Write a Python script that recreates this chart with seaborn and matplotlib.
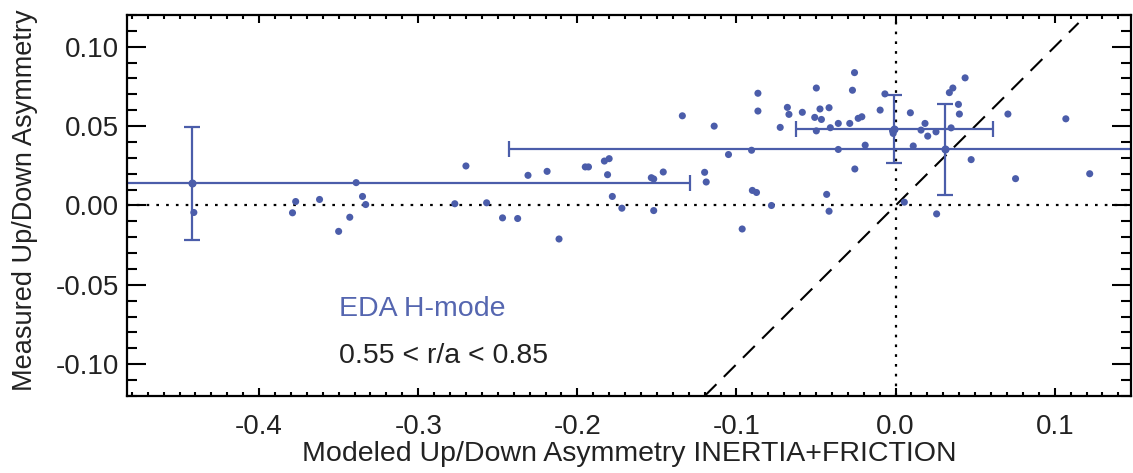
import numpy as np
import pandas as pd
import matplotlib
matplotlib.use('Agg')
import matplotlib.pyplot as plt
import seaborn as sns
from matplotlib.ticker import MultipleLocator

# modelled (x) vs measured (y) up/down asymmetry
model_asym = [-0.441, -0.379, -0.377, -0.362, -0.350, -0.343, -0.339, -0.335, -0.333,
              -0.277, -0.270, -0.257, -0.247, -0.2375, -0.231, -0.219, -0.2115, -0.195,
              -0.193, -0.183, -0.180, -0.181, -0.178, -0.172, -0.1535, -0.152, -0.152,
              -0.146, -0.134, -0.120, -0.119, -0.114, -0.105, -0.0964, -0.0905, -0.090,
              -0.0874, -0.0865, -0.0865, -0.078, -0.0725, -0.068, -0.067, -0.0586, -0.0498,
              -0.0508, -0.0475, -0.0466, -0.0418, -0.0498, -0.041, -0.0433, -0.0418, -0.036,
              -0.036, -0.0288, -0.0258, -0.0271, -0.0256, -0.0235, -0.0212, -0.0191, -0.0097,
              -0.0067, -0.0019, -0.0015, 0.0055, 0.0093, 0.0111, 0.016, 0.0185, 0.0202,
              0.0254, 0.0258, 0.0338, 0.036, 0.0349, 0.0395, 0.0401, 0.0437, 0.0475,
              0.0706, 0.0754, 0.107, 0.122]
meas_asym = [-0.0044, -0.0046, 0.0025, 0.0038, -0.0163, -0.0074, 0.0144, 0.0057, 0.0006,
             0.0011, 0.0249, 0.0017, -0.0078, -0.0082, 0.019, 0.0215, -0.0211, 0.0243,
             0.0243, 0.028, 0.0295, 0.0194, 0.0057, -0.0017, 0.0175, 0.0167, -0.0032,
             0.0211, 0.0565, 0.0209, 0.0148, 0.050, 0.0321, -0.0148, 0.0348, 0.0095,
             0.0082, 0.0707, 0.0595, 0.0, 0.0492, 0.0618, 0.0574, 0.0587, 0.074,
             0.0555, 0.0608, 0.0542, 0.0616, 0.047, 0.049, 0.007, -0.0036, 0.0517,
             0.0353, 0.0517, 0.0837, 0.0726, 0.023, 0.0549, 0.0559, 0.038, 0.0601,
             0.0703, 0.047, 0.0454, 0.0021, 0.0584, 0.0375, 0.0475, 0.0517, 0.0437,
             0.0464, -0.0053, 0.0711, 0.074, 0.0489, 0.0637, 0.0576, 0.0804, 0.0289,
             0.0576, 0.0169, 0.0546, 0.020]

# binned averages with error bars
bin_x = [-0.442, 0.031, -0.0007]
bin_y = [0.014, 0.0354, 0.048]
bin_xerr = [0.313, 0.274, 0.062]
bin_yerr = [0.0355, 0.0285, 0.0215]

blue = '#4B5DAA'

sns.set_style('ticks')
plt.rcParams['font.family'] = ['Liberation Sans', 'DejaVu Sans']

fig = plt.figure(figsize=(11.33, 4.73), dpi=100)
ax = fig.add_axes([0.1121, 0.1628, 0.8862, 0.8055])

df = pd.DataFrame({'model': model_asym, 'meas': meas_asym})

# reference lines
ax.axhline(0, color='black', lw=1.6, ls=(0, (1.2, 3.2)), zorder=1)
ax.axvline(0, color='black', lw=1.6, ls=(0, (1.2, 3.2)), zorder=1)
ax.plot([-0.12, 0.115], [-0.12, 0.115], color='black', lw=1.5, ls=(0, (8, 5)), zorder=1)

sns.scatterplot(data=df, x='model', y='meas', ax=ax, color=blue, s=26,
                edgecolor='none', zorder=3, legend=False)

ax.errorbar(bin_x, bin_y, xerr=bin_xerr, yerr=bin_yerr, fmt='o', ms=4.8,
            color=blue, ecolor=blue, elinewidth=1.6, capsize=6, capthick=1.6, zorder=2)

ax.set_xlim(-0.483, 0.148)
ax.set_ylim(-0.12, 0.12)

ax.xaxis.set_major_locator(MultipleLocator(0.1))
ax.xaxis.set_minor_locator(MultipleLocator(0.01))
ax.yaxis.set_major_locator(MultipleLocator(0.05))
ax.yaxis.set_minor_locator(MultipleLocator(0.01))
ax.set_xticks([-0.4, -0.3, -0.2, -0.1, 0.0, 0.1])
ax.set_xticklabels(['-0.4', '-0.3', '-0.2', '-0.1', '0.0', '0.1'])
ax.set_yticks([-0.10, -0.05, 0.0, 0.05, 0.10])
ax.set_yticklabels(['-0.10', '-0.05', '0.00', '0.05', '0.10'])

ax.tick_params(axis='both', which='both', direction='in', top=True, right=True,
               width=1.5, colors='black', labelsize=20)
ax.tick_params(axis='both', which='major', labelcolor='#222222')
ax.tick_params(axis='y', which='major', length=14, pad=6)
ax.tick_params(axis='y', which='minor', length=7)
ax.tick_params(axis='x', which='major', length=6, pad=13)
ax.tick_params(axis='x', which='minor', length=3)
for sp in ax.spines.values():
    sp.set_linewidth(1.6)
    sp.set_color('black')

ax.set_xlabel('Modeled Up/Down Asymmetry INERTIA+FRICTION', fontsize=20.5,
              color='#222222', labelpad=1)
ax.set_ylabel('Measured Up/Down Asymmetry', fontsize=19.5, color='#222222')
ax.yaxis.set_label_coords(-0.089, 0.515)

ax.text(-0.35, -0.0652, 'EDA H-mode', color='#5566B0', fontsize=20.5, va='center', ha='left')
ax.text(-0.35, -0.095, '0.55 < r/a < 0.85', color='#222222', fontsize=20.5,
        va='center', ha='left')

fig.savefig('out.png', dpi=100)
